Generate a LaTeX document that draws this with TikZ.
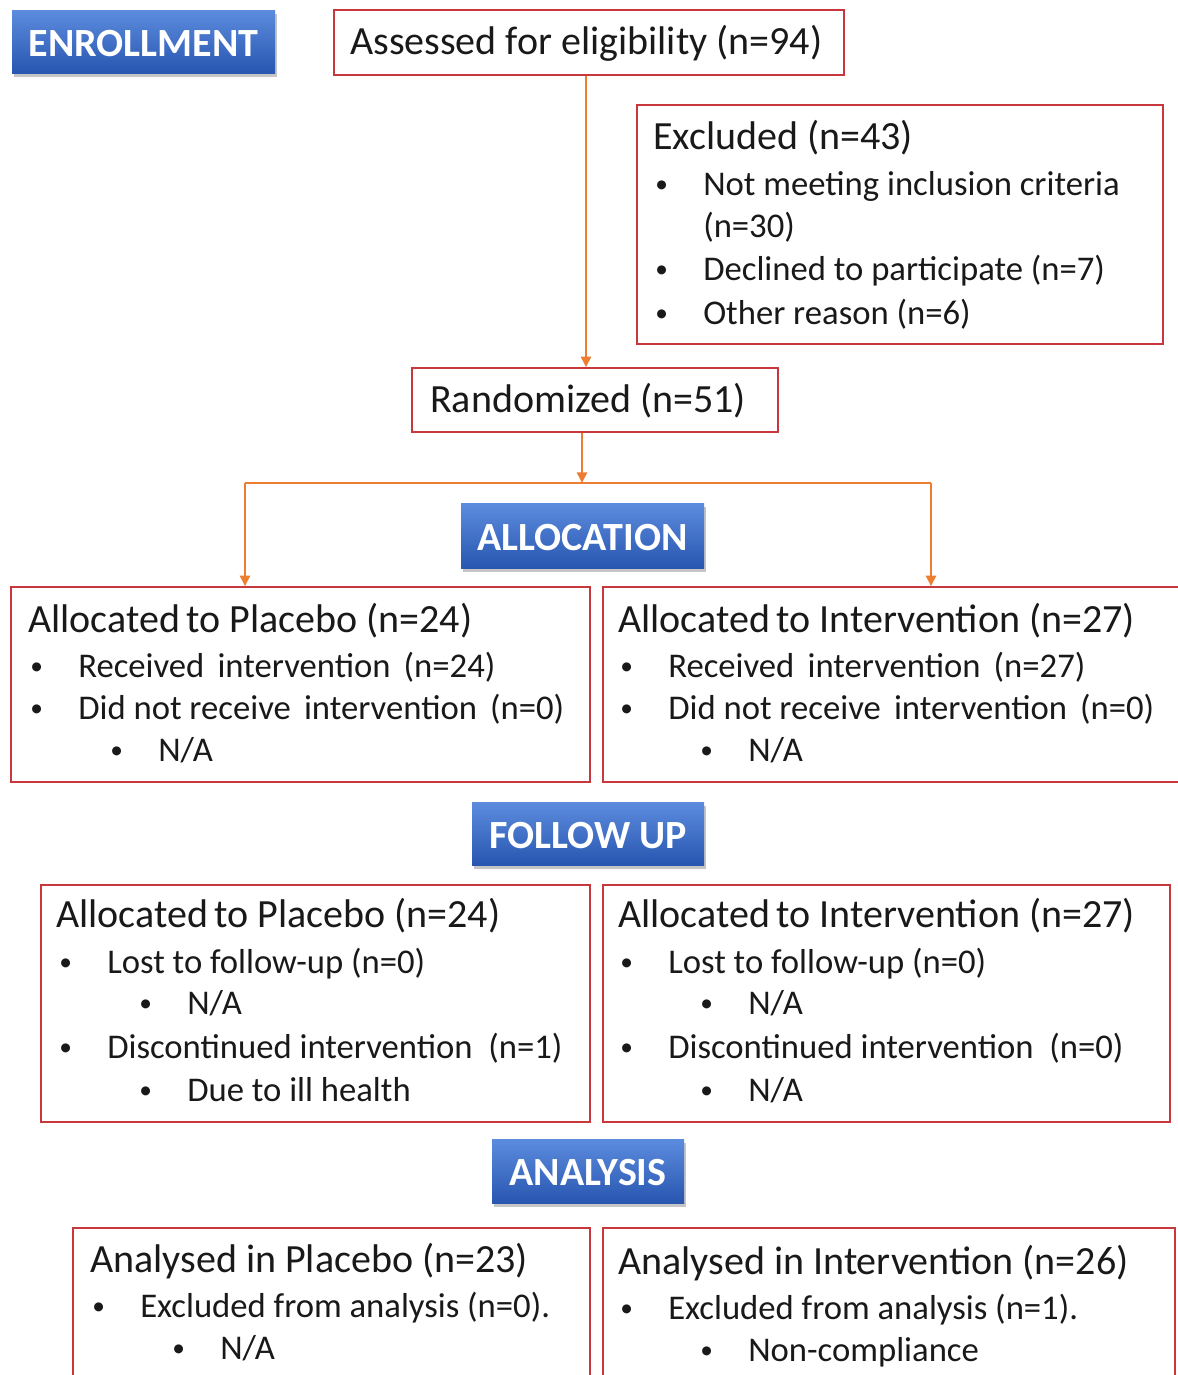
\documentclass[tikz,border=0pt]{standalone}
\usepackage{fontspec}
\setmainfont{Carlito}
\usetikzlibrary{fit,shadows,arrows.meta,calc}
\definecolor{boxred}{RGB}{200,55,60}
\definecolor{arrorange}{RGB}{237,125,49}
\definecolor{hdrtop}{RGB}{92,140,222}
\definecolor{hdrbot}{RGB}{40,86,176}
\definecolor{txt}{RGB}{25,25,25}
\begin{document}
\begin{tikzpicture}[x=0.75pt,y=-0.75pt,
 box/.style={draw=boxred, line width=1.1pt, inner sep=0pt},
 hdr/.style={inner sep=0pt, top color=hdrtop, bottom color=hdrbot, draw=none,
   drop shadow={opacity=0.45,shadow xshift=1.5pt,shadow yshift=-3pt}},
 hdrtext/.style={inner sep=0pt, text=white, font=\fontsize{30}{36}\selectfont\bfseries, text height=21pt, text depth=0pt, yshift=-0.5pt},
 ttl/.style={anchor=west, inner sep=0pt, text=txt, font=\fontsize{30}{36}\selectfont, text height=22pt, text depth=7pt, yshift=-2pt},
 itm/.style={anchor=west, inner sep=0pt, text=txt, font=\fontsize{26}{31}\selectfont, text height=19pt, text depth=6pt, yshift=-2pt},
 bul/.style={anchor=west, inner sep=0pt, text=txt, font=\fontsize{19}{23}\selectfont, yshift=-2pt},
 arr/.style={draw=arrorange, line width=1.8pt, -{Triangle[length=8pt,width=7.5pt]}},
 arrline/.style={draw=arrorange, line width=1.8pt}]
\fill[white] (0,0) rectangle (1178,1375);
\useasboundingbox (0,0) rectangle (1178,1375);
\clip (0,0) rectangle (1178,1375);

% ENROLLMENT
\node[hdr, fit={(12,10) (275,73)}] (enroll) {};
\node[hdrtext] (enrollT) at (enroll.center) {ENROLLMENT};
\node[box, fit={(334,10) (844,75)}] (assess) {};
\node[ttl] (assessT) at (350,42) {Assessed for eligibility (n=94)};

\node[box, fit={(637,105) (1163,344)}] (excl) {};
\node[ttl] (exclT) at (653,137) {Excluded (n=43)};
\node[bul] (exb1) at (655,184) {•};
\node[itm] (ex1) at (703,184) {Not meeting inclusion criteria};
\node[itm] (ex1b) at (703,226) {(n=30)};
\node[bul] (exb2) at (655,269) {•};
\node[itm] (ex2) at (703,269) {Declined to participate (n=7)};
\node[bul] (exb3) at (655,313) {•};
\node[itm] (ex3) at (703,313) {Other reason (n=6)};

\node[box, fit={(412,368) (778,432)}] (rand) {};
\node[ttl] (randT) at (430,400) {Randomized (n=51)};

% ALLOCATION
\node[hdr, fit={(461,503) (704,568)}] (alloc) {};
\node[hdrtext] (allocT) at (alloc.center) {ALLOCATION};

\node[box, fit={(11,587) (590,782)}] (allocP) {};
\node[ttl] (apT) at (28,620) {Allocated\hspace{-2pt} to Placebo (n=24)};
\node[bul] (apb1) at (30,666) {•};
\node[itm] (ap1) at (78,666) {Received\hspace{4pt} intervention\hspace{4pt} (n=24)};
\node[bul] (apb2) at (30,708) {•};
\node[itm] (ap2) at (78,708) {Did not receive\hspace{4pt} intervention\hspace{4pt} (n=0)};
\node[bul] (apb3) at (110,750) {•};
\node[itm] (ap3) at (158,750) {N/A};

\node[box, fit={(603,587) (1182,782)}] (allocI) {};
\node[ttl] (aiT) at (618,620) {Allocated\hspace{-2pt} to Intervention (n=27)};
\node[bul] (aib1) at (620,666) {•};
\node[itm] (ai1) at (668,666) {Received\hspace{4pt} intervention\hspace{4pt} (n=27)};
\node[bul] (aib2) at (620,708) {•};
\node[itm] (ai2) at (668,708) {Did not receive\hspace{4pt} intervention\hspace{4pt} (n=0)};
\node[bul] (aib3) at (700,750) {•};
\node[itm] (ai3) at (748,750) {N/A};

% FOLLOW UP
\node[hdr, fit={(472,802) (704,865)}] (follow) {};
\node[hdrtext] (followT) at (follow.center) {FOLLOW UP};

\node[box, fit={(41,885) (590,1122)}] (fuP) {};
\node[ttl] (fpT) at (56,915) {Allocated\hspace{-2pt} to Placebo (n=24)};
\node[bul] (fpb1) at (59,962) {•};
\node[itm] (fp1) at (107,962) {Lost to follow-up (n=0)};
\node[bul] (fpb2) at (139,1003) {•};
\node[itm] (fp2) at (187,1003) {N/A};
\node[bul] (fpb3) at (59,1047) {•};
\node[itm] (fp3) at (107,1047) {Discontinued intervention\hspace{6pt} (n=1)};
\node[bul] (fpb4) at (139,1090) {•};
\node[itm] (fp4) at (187,1090) {Due to ill health};

\node[box, fit={(603,885) (1170,1122)}] (fuI) {};
\node[ttl] (fiT) at (618,915) {Allocated\hspace{-2pt} to Intervention (n=27)};
\node[bul] (fib1) at (620,962) {•};
\node[itm] (fi1) at (668,962) {Lost to follow-up (n=0)};
\node[bul] (fib2) at (700,1003) {•};
\node[itm] (fi2) at (748,1003) {N/A};
\node[bul] (fib3) at (620,1047) {•};
\node[itm] (fi3) at (668,1047) {Discontinued intervention\hspace{6pt} (n=0)};
\node[bul] (fib4) at (700,1090) {•};
\node[itm] (fi4) at (748,1090) {N/A};

% ANALYSIS
\node[hdr, fit={(492,1139) (684,1203)}] (analysis) {};
\node[hdrtext] (analysisT) at (analysis.center) {ANALYSIS};

\node[box, fit={(73,1228) (590,1395)}] (anP) {};
\node[ttl] (npT) at (90,1260) {Analysed in Placebo (n=23)};
\node[bul] (npb1) at (92,1306) {•};
\node[itm] (np1) at (140,1306) {Excluded from analysis (n=0).};
\node[bul] (npb2) at (172,1348) {•};
\node[itm] (np2) at (220,1348) {N/A};

\node[box, fit={(603,1228) (1175,1395)}] (anI) {};
\node[ttl] (niT) at (618,1262) {Analysed in Intervention (n=26)};
\node[bul] (nib1) at (620,1308) {•};
\node[itm] (ni1) at (668,1308) {Excluded from analysis (n=1).};
\node[bul] (nib2) at (700,1350) {•};
\node[itm] (ni2) at (748,1350) {Non-compliance};

% connectors
\coordinate (ax) at (586,0);
\draw[arr] (assess.south -| ax) -- (rand.north -| ax);
\coordinate (split) at (582,483);
\coordinate (lx) at (245,483);
\coordinate (rx) at (931,483);
\draw[arr] (rand.south -| split) -- (split);
\draw[arrline] (split) -- (lx);
\draw[arrline] (split) -- (rx);
\draw[arr] (lx) -- (allocP.north -| lx);
\draw[arr] (rx) -- (allocI.north -| rx);
\end{tikzpicture}
\end{document}
